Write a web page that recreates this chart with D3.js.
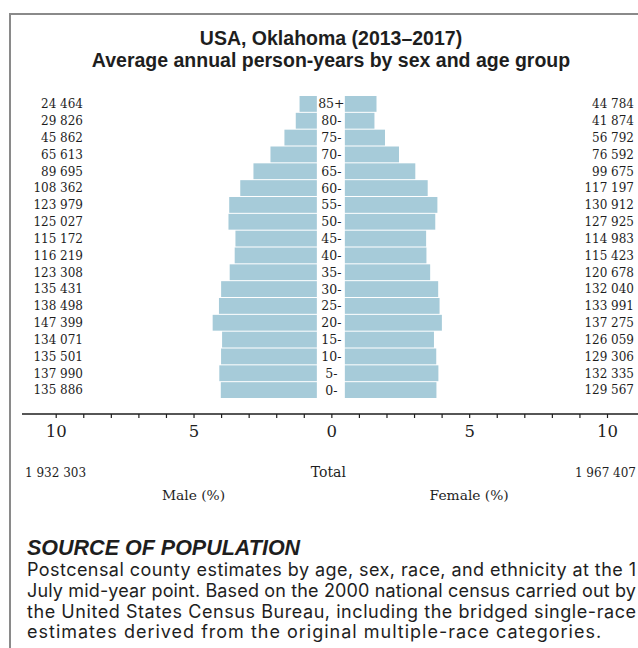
<!DOCTYPE html>
<html>
<head>
<meta charset="utf-8">
<script src="https://cdn.jsdelivr.net/npm/d3@7"></script>
<style>
  body { margin: 0; background: #fff; }
  svg { display: block; }
</style>
</head>
<body>
<div id="vis"></div>
<script>
const width = 638;
const height = 648;

// Age groups, top to bottom
const ageGroups = ["85+", "80-", "75-", "70-", "65-", "60-", "55-", "50-", "45-",
                   "40-", "35-", "30-", "25-", "20-", "15-", "10-", "5-", "0-"];
const maleCounts = [24464, 29826, 45862, 65613, 89695, 108362, 123979, 125027, 115172,
                    116219, 123308, 135431, 138498, 147399, 134071, 135501, 137990, 135886];
const femaleCounts = [44784, 41874, 56792, 76592, 99675, 117197, 130912, 127925, 114983,
                      115423, 120678, 132040, 133991, 137275, 126059, 129306, 132335, 129567];
const maleTotal = 1932303;
const femaleTotal = 1967407;
const tickValues = [-10, -9, -8, -7, -6, -5, -4, -3, -2, -1, 0, 1, 2, 3, 4, 5, 6, 7, 8, 9, 10];
const labelledTicks = [-10, -5, 0, 5, 10];

const sourceLines = [
  "Postcensal county estimates by age, sex, race, and ethnicity at the 1",
  "July mid-year point. Based on the 2000 national census carried out by",
  "the United States Census Bureau, including the bridged single-race",
  "estimates derived from the original multiple-race categories."
];

const grandTotal = maleTotal + femaleTotal;
const rows = ageGroups.map((age, i) => ({
  age: age,
  male: maleCounts[i],
  female: femaleCounts[i],
  malePct: maleCounts[i] / grandTotal * 100,
  femalePct: femaleCounts[i] / grandTotal * 100
}));

const fmt = d3.formatLocale({ decimal: ".", thousands: " ", grouping: [3] }).format(",d");

const serif = "'DejaVu Serif', serif";
const sans = "'Liberation Sans', Arial, sans-serif";
const barColor = "#a6cbd9";
const ink = "#1e1e1e";

const svg = d3.select("#vis").append("svg")
  .attr("width", width)
  .attr("height", height);

// frame (top + left edge)
svg.append("path")
  .attr("d", "M10,648 V14 H638")
  .attr("fill", "none")
  .attr("stroke", "#8a8a8a")
  .attr("stroke-width", 2);

// title
svg.append("text")
  .attr("x", 331).attr("y", 45)
  .attr("text-anchor", "middle")
  .style("font-family", sans).style("font-weight", "bold").style("font-size", "19.5px")
  .style("fill", ink)
  .text("USA, Oklahoma (2013\u20132017)");
svg.append("text")
  .attr("x", 331).attr("y", 67)
  .attr("text-anchor", "middle")
  .style("font-family", sans).style("font-weight", "bold").style("font-size", "19.5px")
  .style("fill", ink)
  .text("Average annual person-years by sex and age group");

// scales
const x = d3.scaleLinear().domain([-10, 10]).range([55.7, 607]);
const barLen = d3.scaleLinear().domain([0, 10]).range([0, x(10) - x(0)]);
const maleEdge = x(0) - 14.5;
const femaleEdge = x(0) + 13.5;

const y = d3.scaleBand()
  .domain(ageGroups)
  .range([96, 398])
  .paddingInner(0.06);

// bars
svg.append("g").selectAll("rect.male")
  .data(rows)
  .join("rect")
  .attr("class", "male")
  .attr("x", d => maleEdge - barLen(d.malePct))
  .attr("y", d => y(d.age))
  .attr("width", d => barLen(d.malePct))
  .attr("height", y.bandwidth())
  .attr("fill", barColor);

svg.append("g").selectAll("rect.female")
  .data(rows)
  .join("rect")
  .attr("class", "female")
  .attr("x", femaleEdge)
  .attr("y", d => y(d.age))
  .attr("width", d => barLen(d.femalePct))
  .attr("height", y.bandwidth())
  .attr("fill", barColor);

// age labels
svg.append("g").selectAll("text")
  .data(rows)
  .join("text")
  .attr("x", x(0))
  .attr("y", d => y(d.age) + y.bandwidth() / 2)
  .attr("dy", "0.36em")
  .attr("text-anchor", "middle")
  .style("font-family", serif).style("font-size", "12.5px").style("fill", ink)
  .text(d => d.age);

// counts
svg.append("g").selectAll("text")
  .data(rows)
  .join("text")
  .attr("x", 83)
  .attr("y", d => y(d.age) + y.bandwidth() / 2)
  .attr("dy", "0.36em")
  .attr("text-anchor", "end")
  .style("font-family", serif).style("font-size", "12px").style("fill", ink)
  .text(d => fmt(d.male));

svg.append("g").selectAll("text")
  .data(rows)
  .join("text")
  .attr("x", 634)
  .attr("y", d => y(d.age) + y.bandwidth() / 2)
  .attr("dy", "0.36em")
  .attr("text-anchor", "end")
  .style("font-family", serif).style("font-size", "12px").style("fill", ink)
  .text(d => fmt(d.female));

// axis
const axisY = 414;
const axis = d3.axisBottom(x)
  .tickValues(tickValues)
  .tickSize(4)
  .tickPadding(7)
  .tickFormat(d => labelledTicks.includes(d) ? Math.abs(d) : "");

const gAxis = svg.append("g")
  .attr("transform", `translate(0,${axisY})`)
  .call(axis);
gAxis.select(".domain").remove();
gAxis.selectAll(".tick line").attr("stroke", ink).attr("stroke-width", 1.2);
gAxis.selectAll(".tick text")
  .style("font-family", serif).style("font-size", "16.5px").style("fill", ink);
gAxis.append("line")
  .attr("x1", 22).attr("x2", 638)
  .attr("stroke", ink).attr("stroke-width", 1.5);

// totals
const totalsY = 477;
svg.append("text")
  .attr("x", 25).attr("y", totalsY)
  .style("font-family", serif).style("font-size", "12px").style("fill", ink)
  .text(fmt(maleTotal));
svg.append("text")
  .attr("x", x(0) - 3).attr("y", totalsY)
  .attr("text-anchor", "middle")
  .style("font-family", serif).style("font-size", "14px").style("fill", ink)
  .text("Total");
svg.append("text")
  .attr("x", 636).attr("y", totalsY)
  .attr("text-anchor", "end")
  .style("font-family", serif).style("font-size", "12px").style("fill", ink)
  .text(fmt(femaleTotal));

svg.append("text")
  .attr("x", x(-5)).attr("y", 500)
  .attr("text-anchor", "middle")
  .style("font-family", serif).style("font-size", "13.8px").style("fill", ink)
  .text("Male (%)");
svg.append("text")
  .attr("x", x(5)).attr("y", 500)
  .attr("text-anchor", "middle")
  .style("font-family", serif).style("font-size", "13.8px").style("fill", ink)
  .text("Female (%)");

// source note
svg.append("text")
  .attr("x", 27).attr("y", 555)
  .style("font-family", sans).style("font-weight", "bold").style("font-style", "italic")
  .style("font-size", "21.5px").style("fill", ink)
  .text("SOURCE OF POPULATION");

// body text, justified except for the last line
const noteLeft = 27, noteRight = 637;
svg.append("g").selectAll("text")
  .data(sourceLines)
  .join("text")
  .attr("x", noteLeft)
  .attr("y", (d, i) => 576 + i * 20.8)
  .attr("textLength", (d, i) => i < sourceLines.length - 1 ? noteRight - noteLeft : null)
  .attr("lengthAdjust", "spacing")
  .style("font-family", "Inter, sans-serif").style("font-size", "18px")
  .style("letter-spacing", "1px").style("fill", ink)
  .text(d => d);
</script>
</body>
</html>
